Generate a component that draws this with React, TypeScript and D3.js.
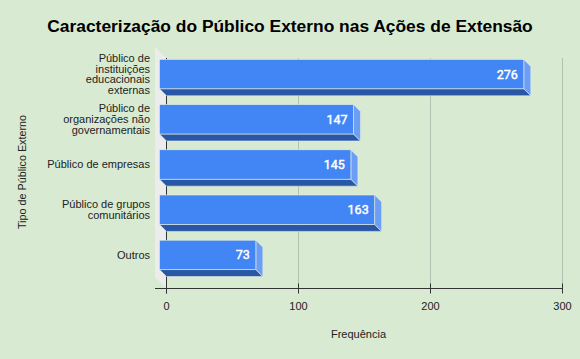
import React from "react";
import * as d3 from "d3";

const categories = [
  "Público de\ninstituições\neducacionais\nexternas",
  "Público de\norganizações não\ngovernamentais",
  "Público de empresas",
  "Público de grupos\ncomunitários",
  "Outros",
];
const values = [276, 147, 145, 163, 73];
const xTicks = [0, 100, 200, 300];

const W = 580;
const H = 359;
const depth = 7;
const font = "'Liberation Sans', Arial, sans-serif";

const App = () => {
  const x = d3.scaleLinear().domain([0, 300]).range([166.5, 562.5]);
  const y = d3
    .scaleBand<string>()
    .domain(categories)
    .range([58.5, 284.5])
    .paddingInner(0.35)
    .paddingOuter(0.175);
  const bw = y.bandwidth();
  const x0 = x(0);
  const axisY = 288.5;

  return (
    <svg width={W} height={H} style={{ display: "block", position: "absolute", left: 0, top: 0 }}>
      <rect width={W} height={H} fill="#d9ead3" />
      <text x={290} y={32} textAnchor="middle" fontFamily={font} fontWeight="bold" fontSize={17.4} fill="#000">
        Caracterização do Público Externo nas Ações de Extensão
      </text>

      {/* grid */}
      {xTicks.filter(t => t > 0).map(t => (
        <line key={t} x1={x(t)} x2={x(t)} y1={58} y2={axisY} stroke="#b3c1b0" strokeWidth={1} />
      ))}

      {/* left wall */}
      <polygon
        points={`155,47 ${x0},58.5 ${x0},${axisY} 155,277`}
        fill="#ececec"
      />
      <line x1={x0} x2={x0} y1={58} y2={axisY + 5} stroke="#333" strokeWidth={1} />

      {/* bars */}
      {categories.map((c, i) => {
        const top = y(c) as number;
        const bot = top + bw;
        const xv = x(values[i]);
        const fx0 = x0 - depth;
        const fx1 = xv - depth;
        return (
          <g key={c}>
            <polygon
              points={`${fx0},${bot - depth} ${fx1},${bot - depth} ${xv},${bot} ${x0},${bot}`}
              fill="#2a56a6"
              stroke="#e6efe4"
              strokeWidth={0.6}
            />
            <polygon
              points={`${fx1},${top - depth} ${xv},${top} ${xv},${bot} ${fx1},${bot - depth}`}
              fill="#6d9ef6"
              stroke="#e6efe4"
              strokeWidth={0.6}
            />
            <rect x={fx0} y={top - depth} width={fx1 - fx0} height={bw} fill="#4285f4" stroke="#e6efe4" strokeWidth={0.6} />
            <text
              x={fx1 - 6}
              y={top - depth + bw / 2}
              dy="0.36em"
              textAnchor="end"
              fontFamily="Roboto, sans-serif"
              fontSize={12.5}
              fill="#fff"
              stroke="#fff"
              strokeWidth={0.45}
            >
              {values[i]}
            </text>
          </g>
        );
      })}

      {/* category labels */}
      {categories.map(c => {
        const lines = c.split("\n");
        const cy = (y(c) as number) - depth + bw / 2;
        const lh = 10.8;
        const start = cy - ((lines.length - 1) * lh) / 2;
        return (
          <text key={c} textAnchor="end" fontFamily={font} fontSize={11} fill="#222">
            {lines.map((l, j) => (
              <tspan key={j} x={150} y={start + j * lh} dy="0.35em">
                {l}
              </tspan>
            ))}
          </text>
        );
      })}

      {/* x axis */}
      <line x1={155} x2={563} y1={axisY} y2={axisY} stroke="#333" strokeWidth={1} />
      {xTicks.map(t => (
        <g key={t}>
          <line x1={x(t)} x2={x(t)} y1={axisY - 5} y2={axisY + 5} stroke="#333" strokeWidth={1} />
          <text x={x(t)} y={310} textAnchor="middle" fontFamily={font} fontSize={11} fill="#222">
            {t}
          </text>
        </g>
      ))}
      <text x={358.5} y={338} textAnchor="middle" fontFamily={font} fontSize={11} fill="#222">
        Frequência
      </text>
      <text
        transform="translate(26,172) rotate(-90)"
        textAnchor="middle"
        fontFamily={font}
        fontSize={10.8}
        fill="#222"
      >
        Tipo de Público Externo
      </text>
    </svg>
  );
};

export default App;
